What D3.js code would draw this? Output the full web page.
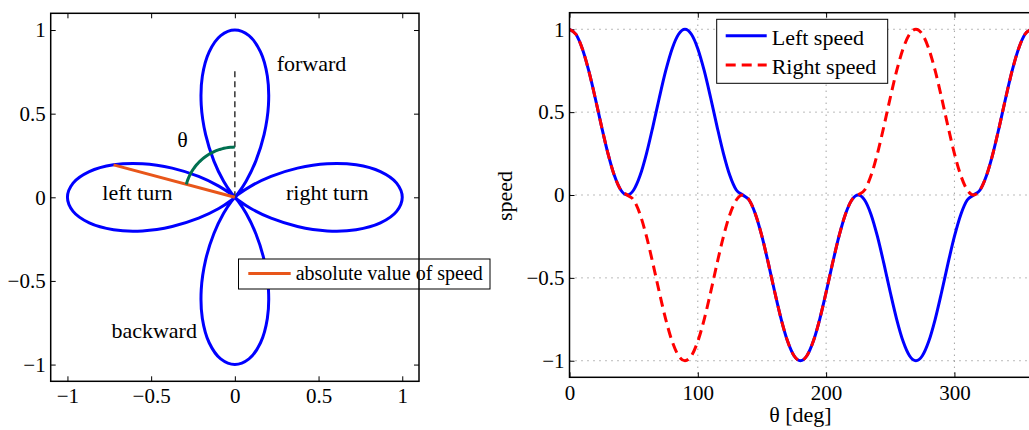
<!DOCTYPE html>
<html>
<head>
<meta charset="utf-8">
<script src="https://cdn.jsdelivr.net/npm/d3@7"></script>
<style>
  html, body { margin: 0; padding: 0; background: #fff; }
  svg { display: block; }
  text { font-family: "Liberation Serif", "Times New Roman", serif; fill: #000; }
</style>
</head>
<body>
<svg id="chart" width="1029" height="430"></svg>
<script>
// ---------------- data ----------------
const theta = [0,5,10,15,20,25,30,35,40,45,50,55,60,65,70,75,80,85,90,
  95,100,105,110,115,120,125,130,135,140,145,150,155,160,165,170,175,180,
  185,190,195,200,205,210,215,220,225,230,235,240,245,250,255,260,265,270,
  275,280,285,290,295,300,305,310,315,320,325,330,335,340,345,350,355,360];

const leftSpeed = [1,.970,.883,.750,.587,.413,.250,.117,.030,0,.030,.117,.250,.413,.587,.750,.883,.970,1,
  .970,.883,.750,.587,.413,.250,.117,.030,0,
  -.030,-.117,-.250,-.413,-.587,-.750,-.883,-.970,-1,
  -.970,-.883,-.750,-.587,-.413,-.250,-.117,-.030,0,-.030,-.117,-.250,-.413,-.587,-.750,-.883,-.970,-1,
  -.970,-.883,-.750,-.587,-.413,-.250,-.117,-.030,0,
  .030,.117,.250,.413,.587,.750,.883,.970,1];

const rightSpeed = [1,.970,.883,.750,.587,.413,.250,.117,.030,0,
  -.030,-.117,-.250,-.413,-.587,-.750,-.883,-.970,-1,
  -.970,-.883,-.750,-.587,-.413,-.250,-.117,-.030,0,
  -.030,-.117,-.250,-.413,-.587,-.750,-.883,-.970,-1,
  -.970,-.883,-.750,-.587,-.413,-.250,-.117,-.030,0,
  .030,.117,.250,.413,.587,.750,.883,.970,1,
  .970,.883,.750,.587,.413,.250,.117,.030,0,
  .030,.117,.250,.413,.587,.750,.883,.970,1];

const exampleAngle = 75;      // deg, angle shown with the orange segment
const arcRadius = 0.3;
const dashedTop = 0.77;

const leftTicks = [-1, -0.5, 0, 0.5, 1];
const leftTickLabels = ["\u22121", "\u22120.5", "0", "0.5", "1"];
const rightXTicks = [0, 100, 200, 300];
const rightXTickLabels = ["0", "100", "200", "300"];
const rightYTicks = [-1, -0.5, 0, 0.5, 1];
const rightYTickLabels = ["\u22121", "\u22120.5", "0", "0.5", "1"];

const annotations = [
  {text: "forward",    x: 0.25,   y: 0.755, anchor: "start"},
  {text: "left turn",  x: -0.582, y: -0.016, anchor: "middle"},
  {text: "right turn", x: 0.552,  y: -0.016, anchor: "middle"},
  {text: "backward",   x: -0.482, y: -0.841, anchor: "middle"},
  {text: "\u03B8",     x: -0.313, y: 0.30,  anchor: "middle"}
];

// ---------------- setup ----------------
const svg = d3.select("#chart");
svg.append("rect").attr("width", 1029).attr("height", 430).attr("fill", "#fff");
const FS = 21;
const BLUE = "#0000ff", RED = "#ff0000", ORANGE = "#e8561a", GREEN = "#007050";
const rad = d => d * Math.PI / 180;

// ================= LEFT PLOT =================
const L = {x0: 50.7, x1: 419, y0: 13.3, y1: 381.3};
const xL = d3.scaleLinear().domain([-1.1, 1.1]).range([L.x0, L.x1]);
const yL = d3.scaleLinear().domain([-1.1, 1.1]).range([L.y1, L.y0]);
const gL = svg.append("g");

function styleAxis(g) {
  g.select(".domain").remove();
  g.selectAll(".tick line").attr("stroke", "#000").attr("stroke-width", 1);
  g.selectAll(".tick text").style("font-family", '"Liberation Serif", serif')
    .style("font-size", FS + "px").attr("fill", "#000");
}

gL.append("g").attr("transform", `translate(0,${L.y1})`)
  .call(d3.axisBottom(xL).tickValues(leftTicks).tickFormat((d,i) => leftTickLabels[i])
    .tickSizeInner(-5).tickSizeOuter(0).tickPadding(7))
  .call(styleAxis);
gL.append("g").attr("transform", `translate(0,${L.y0})`)
  .call(d3.axisTop(xL).tickValues(leftTicks).tickFormat("").tickSizeInner(-5).tickSizeOuter(0))
  .call(styleAxis);
gL.append("g").attr("transform", `translate(${L.x0},0)`)
  .call(d3.axisLeft(yL).tickValues(leftTicks).tickFormat((d,i) => leftTickLabels[i])
    .tickSizeInner(-5).tickSizeOuter(0).tickPadding(5))
  .call(styleAxis);
gL.append("g").attr("transform", `translate(${L.x1},0)`)
  .call(d3.axisRight(yL).tickValues(leftTicks).tickFormat("").tickSizeInner(-5).tickSizeOuter(0))
  .call(styleAxis);

// polar rose: radius = |speed|, angle measured from vertical
const polarPts = theta.slice(0, -1).map((t, i) => {
  const r = Math.abs(leftSpeed[i]);
  return [r * Math.sin(rad(t)), r * Math.cos(rad(t))];
});
gL.append("path")
  .attr("d", d3.line().x(d => xL(d[0])).y(d => yL(d[1])).curve(d3.curveCatmullRomClosed.alpha(0.5))(polarPts))
  .attr("fill", "none").attr("stroke", BLUE).attr("stroke-width", 3);

// dashed vertical reference
gL.append("line")
  .attr("x1", xL(0)).attr("y1", yL(0)).attr("x2", xL(0)).attr("y2", yL(dashedTop))
  .attr("stroke", "#333").attr("stroke-width", 1.5).attr("stroke-dasharray", "6,4");

// orange segment to the example point (left side)
const exIdx = theta.indexOf(exampleAngle);
const exR = Math.abs(leftSpeed[exIdx]);
gL.append("line")
  .attr("x1", xL(0)).attr("y1", yL(0))
  .attr("x2", xL(-exR * Math.sin(rad(exampleAngle)))).attr("y2", yL(exR * Math.cos(rad(exampleAngle))))
  .attr("stroke", ORANGE).attr("stroke-width", 3);

// green angle arc
const arcAngles = d3.range(0, exampleAngle + 0.5, 2.5);
gL.append("path")
  .attr("d", d3.line().x(a => xL(-arcRadius * Math.sin(rad(a)))).y(a => yL(arcRadius * Math.cos(rad(a))))(arcAngles))
  .attr("fill", "none").attr("stroke", GREEN).attr("stroke-width", 3);

// annotations
annotations.forEach(a => {
  gL.append("text").attr("x", xL(a.x)).attr("y", yL(a.y))
    .attr("text-anchor", a.anchor).style("font-size", "22px").text(a.text);
});

// left legend
const lg = gL.append("g");
lg.append("rect").attr("x", 238.5).attr("y", 259).attr("width", 251.5).attr("height", 30)
  .attr("fill", "#fff").attr("stroke", "#000").attr("stroke-width", 1);
lg.append("line").attr("x1", 248.3).attr("x2", 290.7).attr("y1", 273.5).attr("y2", 273.5)
  .attr("stroke", ORANGE).attr("stroke-width", 3);
lg.append("text").attr("x", 295.7).attr("y", 280).style("font-size", "20px").text("absolute value of speed");

// box
gL.append("rect").attr("x", L.x0).attr("y", L.y0).attr("width", L.x1 - L.x0).attr("height", L.y1 - L.y0)
  .attr("fill", "none").attr("stroke", "#000").attr("stroke-width", 1.5);

// ================= RIGHT PLOT =================
const R = {x0: 569.5, x1: 1031.4, y0: 12.7, y1: 377.3};
const xR = d3.scaleLinear().domain([0, 360]).range([R.x0, R.x1]);
const yR = d3.scaleLinear().domain([-1.1, 1.1]).range([R.y1, R.y0]);
const gR = svg.append("g");

// grid
gR.append("g").selectAll("line").data(rightXTicks).join("line")
  .attr("x1", d => xR(d)).attr("x2", d => xR(d)).attr("y1", R.y0).attr("y2", R.y1)
  .attr("stroke", "#777").attr("stroke-width", 1).attr("stroke-dasharray", "1,5");
gR.append("g").selectAll("line").data(rightYTicks).join("line")
  .attr("x1", R.x0).attr("x2", R.x1).attr("y1", d => yR(d)).attr("y2", d => yR(d))
  .attr("stroke", "#777").attr("stroke-width", 1).attr("stroke-dasharray", "1,5");

gR.append("g").attr("transform", `translate(0,${R.y1})`)
  .call(d3.axisBottom(xR).tickValues(rightXTicks).tickFormat((d,i) => rightXTickLabels[i])
    .tickSizeInner(-5).tickSizeOuter(0).tickPadding(7.5))
  .call(styleAxis);
gR.append("g").attr("transform", `translate(0,${R.y0})`)
  .call(d3.axisTop(xR).tickValues(rightXTicks).tickFormat("").tickSizeInner(-5).tickSizeOuter(0))
  .call(styleAxis);
gR.append("g").attr("transform", `translate(${R.x0},0)`)
  .call(d3.axisLeft(yR).tickValues(rightYTicks).tickFormat((d,i) => rightYTickLabels[i])
    .tickSizeInner(-5).tickSizeOuter(0).tickPadding(5))
  .call(styleAxis);

// clip
svg.append("defs").append("clipPath").attr("id", "clipR").append("rect")
  .attr("x", R.x0).attr("y", R.y0 - 3).attr("width", R.x1 - R.x0).attr("height", R.y1 - R.y0 + 6);

const lineGen = d3.line().x((d, i) => xR(theta[i])).y(d => yR(d)).curve(d3.curveMonotoneX);
gR.append("path").attr("clip-path", "url(#clipR)").attr("d", lineGen(leftSpeed))
  .attr("fill", "none").attr("stroke", BLUE).attr("stroke-width", 3);
gR.append("path").attr("clip-path", "url(#clipR)").attr("d", lineGen(rightSpeed))
  .attr("fill", "none").attr("stroke", RED).attr("stroke-width", 3).attr("stroke-dasharray", "10,6");

// box
gR.append("rect").attr("x", R.x0).attr("y", R.y0).attr("width", R.x1 - R.x0).attr("height", R.y1 - R.y0)
  .attr("fill", "none").attr("stroke", "#000").attr("stroke-width", 1.5);

// labels
gR.append("text").attr("x", xR(180)).attr("y", 421.5).attr("text-anchor", "middle")
  .style("font-size", "22px").text("\u03B8 [deg]");
gR.append("text").attr("transform", `translate(512,196) rotate(-90)`).attr("text-anchor", "middle")
  .style("font-size", "22px").text("speed");

// right legend
const rg = gR.append("g");
rg.append("rect").attr("x", 716.7).attr("y", 19.3).attr("width", 171).attr("height", 64)
  .attr("fill", "#fff").attr("stroke", "#000").attr("stroke-width", 1);
rg.append("line").attr("x1", 725.7).attr("x2", 766.7).attr("y1", 35.7).attr("y2", 35.7)
  .attr("stroke", BLUE).attr("stroke-width", 3);
rg.append("line").attr("x1", 725.7).attr("x2", 766.7).attr("y1", 65).attr("y2", 65)
  .attr("stroke", RED).attr("stroke-width", 3).attr("stroke-dasharray", "10,6");
rg.append("text").attr("x", 771.7).attr("y", 45).style("font-size", "22px").text("Left speed");
rg.append("text").attr("x", 771.7).attr("y", 74).style("font-size", "22px").text("Right speed");
</script>
</body>
</html>
